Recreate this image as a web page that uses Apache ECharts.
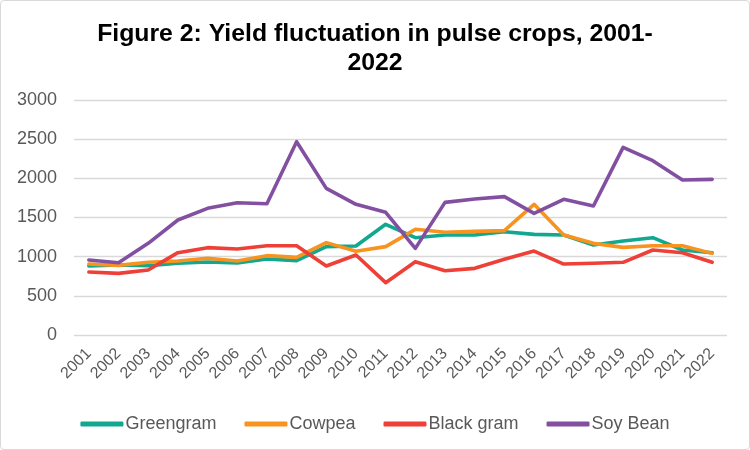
<!DOCTYPE html>
<html>
<head>
<meta charset="utf-8">
<script src="https://cdn.jsdelivr.net/npm/echarts@6/dist/echarts.min.js"></script>
<style>
html,body{margin:0;padding:0;background:#fff;}
#wrap{position:absolute;left:0;top:0;width:748px;height:448px;border:1px solid #d9d9d9;border-radius:4px;}
#chart{width:750px;height:450px;position:absolute;left:0;top:0;}
</style>
</head>
<body>
<div id="wrap"></div>
<div id="chart"></div>
<script>
const years = ['2001','2002','2003','2004','2005','2006','2007','2008','2009','2010','2011','2012','2013','2014','2015','2016','2017','2018','2019','2020','2021','2022'];
const greengram = [881,894,885,915,932,919,970,949,1128,1136,1413,1242,1277,1277,1319,1285,1277,1149,1200,1242,1085,1051];
const cowpea = [906,889,928,945,979,945,1013,991,1179,1068,1128,1349,1311,1323,1332,1668,1277,1170,1119,1140,1140,1042];
const blackgram = [804,787,830,1051,1115,1098,1140,1140,881,1021,668,936,821,851,966,1072,906,915,928,1085,1051,928];
const soybean = [957,923,1170,1468,1617,1689,1676,2468,1872,1668,1566,1106,1693,1736,1766,1553,1732,1647,2396,2225,1979,1987];
const yTicks = [0,500,1000,1500,2000,2500,3000];

const REG = '"Liberation Sans", Arial, sans-serif';
const chart = echarts.init(document.getElementById('chart'), null, {renderer:'canvas'});
const mk = (name, data, color) => ({
  name, type:'line', data, symbol:'none', smooth:false,
  lineStyle:{width:3.6, color, cap:'round', join:'round'},
  itemStyle:{color}
});
chart.setOption({
  animation:false,
  title:{
    text:'Figure 2: Yield fluctuation in pulse crops, 2001-\n2022',
    left:'center', top:15,
    textStyle:{fontFamily:REG, fontWeight:'bold', fontSize:24.8, color:'#000', lineHeight:29}
  },
  legend:{
    top:410, left:'center', itemWidth:43, itemHeight:5, itemGap:28,
    icon:'roundRect',
    textStyle:{fontFamily:REG, fontSize:18, color:'#595959', padding:[0,0,0,-3]},
    data:['Greengram','Cowpea','Black gram','Soy Bean']
  },
  grid:{left:74, right:23, top:100, bottom:115, containLabel:false},
  xAxis:{
    type:'category', data:years, boundaryGap:true,
    axisLine:{show:false}, axisTick:{show:false},
    axisLabel:{rotate:45, fontFamily:REG, fontSize:16, color:'#595959', margin:16, interval:0}
  },
  yAxis:{
    type:'value', min:0, max:3000, interval:500,
    axisLine:{show:false}, axisTick:{show:false},
    splitLine:{lineStyle:{color:'#d9d9d9', width:1.3}},
    axisLabel:{fontFamily:REG, fontSize:18, color:'#595959', margin:17,
      formatter:v => yTicks.includes(v) ? String(v) : ''}
  },
  series:[
    mk('Greengram', greengram, '#12A88F'),
    mk('Cowpea', cowpea, '#F7931E'),
    mk('Black gram', blackgram, '#EE4037'),
    mk('Soy Bean', soybean, '#8350A1')
  ]
});
</script>
</body>
</html>
